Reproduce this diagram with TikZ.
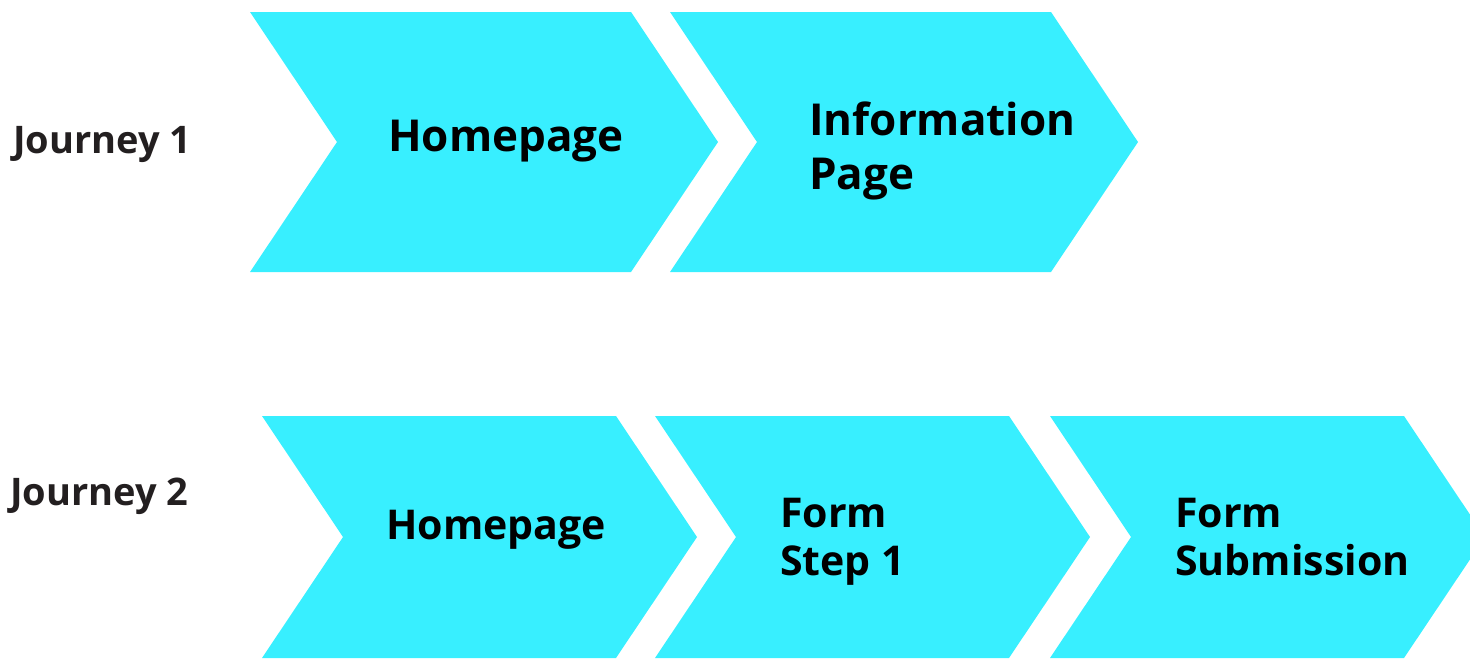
\documentclass[tikz,border=0pt]{standalone}
\usepackage{fontspec}
\setsansfont{Open Sans}
\definecolor{stepcyan}{RGB}{56,239,255}
\definecolor{labelgray}{RGB}{35,31,32}

\begin{document}
\begin{tikzpicture}[
    x=0.75pt, y=-0.75pt,
    stepshape/.style={fill=stepcyan, draw=none},
    journey/.style={anchor=base west, inner sep=0pt, text=labelgray,
        font=\sffamily\bfseries\fontsize{28.5}{34}\selectfont},
    bigstep/.style={anchor=base west, inner sep=0pt, align=left,
        font=\sffamily\bfseries\fontsize{33}{40.5}\selectfont},
    smallstep/.style={anchor=base west, inner sep=0pt, align=left,
        font=\sffamily\bfseries\fontsize{30.8}{36}\selectfont}
]
\useasboundingbox (0,0) rectangle (1470,658);
\clip (0,0) rectangle (1470,658);

% Journey 1 chevrons
\foreach \lx in {250, 670} {
    \fill[stepshape] (\lx,12) -- ++(381,0) -- ++(87,130) -- ++(-87,130)
        -- ++(-381,0) -- ++(87,-130) -- cycle;
}

% Journey 2 chevrons
\foreach \lx in {262, 655, 1050} {
    \fill[stepshape] (\lx,416) -- ++(354,0) -- ++(81,121) -- ++(-81,121)
        -- ++(-354,0) -- ++(81,-121) -- cycle;
}

% Row labels
\node[journey] (j1) at (13,153) {Journey 1};
\node[journey] (j2) at (10,505) {Journey 2};

% Journey 1 steps (base = last line)
\node[bigstep] (home1) at (388,151) {Homepage};
\node[bigstep] (info) at (809,189) {Information\\Page};

% Journey 2 steps
\node[smallstep] (home2) at (386,539) {Homepage};
\node[smallstep] (form1) at (780,575) {Form\\Step 1};
\node[smallstep] (submit) at (1175,575) {Form\\Submission};

\end{tikzpicture}
\end{document}
